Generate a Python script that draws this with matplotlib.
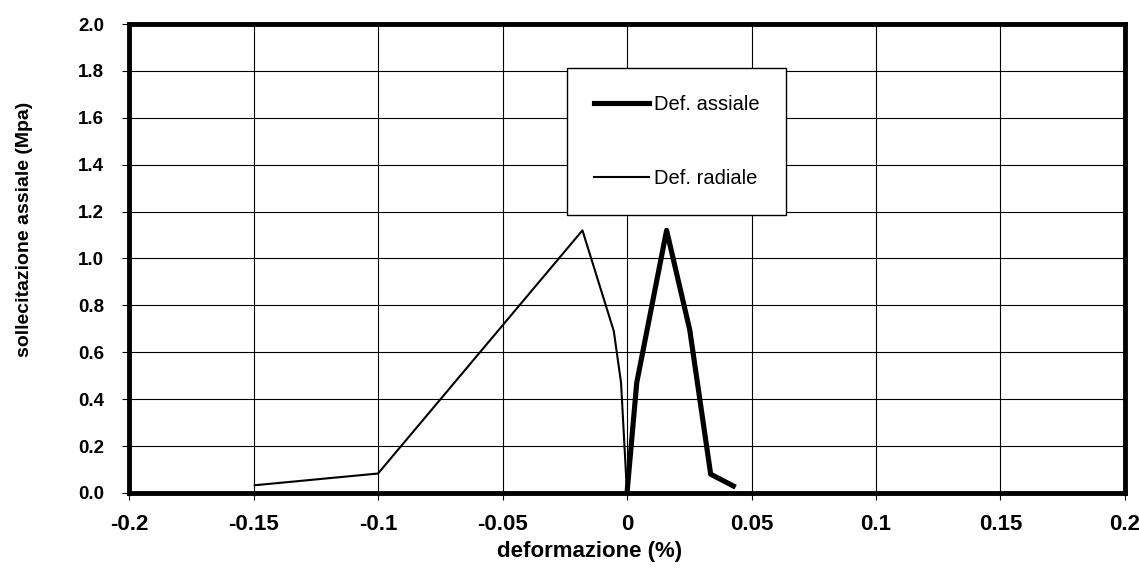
import matplotlib
matplotlib.use("Agg")
import matplotlib.pyplot as plt
from matplotlib.lines import Line2D

# deformazione (%) vs sollecitazione assiale (MPa)
axial_x = [0.0, 0.0039, 0.0159, 0.0252, 0.0336, 0.0427]
axial_y = [0.0, 0.47, 1.12, 0.695, 0.08, 0.03]
radial_x = [-0.1495, -0.1, -0.0179, -0.0053, -0.0024, 0.0]
radial_y = [0.033, 0.083, 1.12, 0.69, 0.47, 0.0]

x_ticks = [-0.2, -0.15, -0.1, -0.05, 0, 0.05, 0.1, 0.15, 0.2]
x_labels = ["-0.2", "-0.15", "-0.1", "-0.05", "0", "0.05", "0.1", "0.15", "0.2"]
y_ticks = [0.0, 0.2, 0.4, 0.6, 0.8, 1.0, 1.2, 1.4, 1.6, 1.8, 2.0]

plt.rcParams["font.family"] = ["Liberation Sans", "DejaVu Sans"]

fig = plt.figure(figsize=(11.39, 5.69), dpi=100)
ax = fig.add_axes([0.1133, 0.1336, 0.8744, 0.8242])

ax.plot(radial_x, radial_y, color="black", lw=1.5, zorder=3)
ax.plot(axial_x, axial_y, color="black", lw=3.7, zorder=3)

ax.set_xlim(-0.2, 0.2)
ax.set_ylim(0, 2.0)
ax.set_xticks(x_ticks)
ax.set_xticklabels(x_labels)
ax.set_yticks(y_ticks)
ax.set_yticklabels([f"{v:.1f}" for v in y_ticks])
ax.grid(True, color="black", lw=0.8)
ax.set_axisbelow(True)
for s in ax.spines.values():
    s.set_linewidth(3.5)
ax.tick_params(direction="out", length=5, width=0.8)
ax.tick_params(axis="x", labelsize=16, pad=10)
ax.tick_params(axis="y", labelsize=13.5, pad=13)
for lab in ax.get_xticklabels() + ax.get_yticklabels():
    lab.set_fontweight("bold")

ax.set_xlabel("deformazione (%)", fontsize=16, fontweight="bold")
ax.set_ylabel("sollecitazione assiale (Mpa)", fontsize=14, fontweight="bold")
ax.xaxis.set_label_coords(0.462, -0.102)
ax.yaxis.set_label_coords(-0.0964, 0.563)

handles = [Line2D([], [], color="black", lw=3.7),
           Line2D([], [], color="black", lw=1.5)]
leg = ax.legend(handles, ["Def. assiale", "Def. radiale"],
                loc="upper left", bbox_to_anchor=(567 / 1139, 1 - 68 / 569),
                bbox_transform=fig.transFigure, fontsize=14.5, frameon=True,
                fancybox=False, shadow=False, handlelength=2.7, handletextpad=0.25,
                labelspacing=2.7, borderpad=1.35, borderaxespad=0)
leg.get_frame().set_edgecolor("black")
leg.get_frame().set_linewidth(1.0)
leg.get_frame().set_alpha(1)

fig.savefig("out.png", dpi=100)
